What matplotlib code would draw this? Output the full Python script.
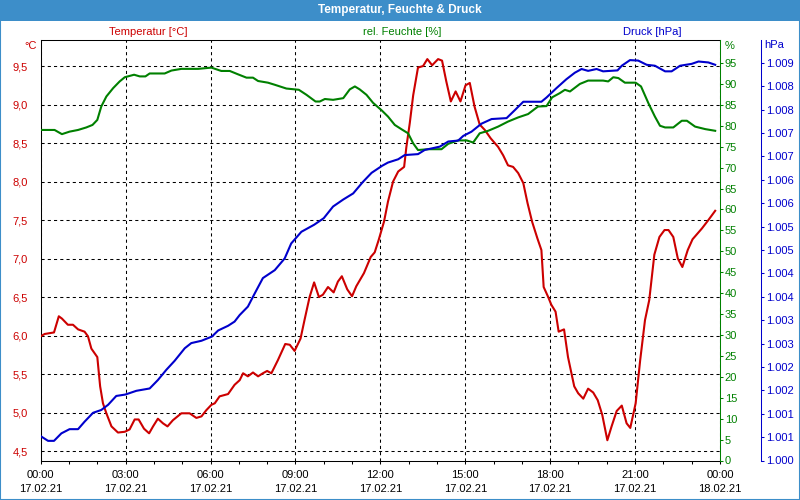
import matplotlib
matplotlib.use("Agg")
import matplotlib.pyplot as plt
from matplotlib.patches import Rectangle

plt.rcParams['font.family'] = ['Liberation Sans', 'DejaVu Sans']
plt.rcParams['font.size'] = 8

RED = '#cc0000'
GREEN = '#008000'
BLUE = '#0000cc'
BAR = '#3d8ec9'

# temperature [°C] over hours since 17.02.21 00:00
temp_hours = [0, 0.14, 0.47, 0.64, 0.75, 0.96, 1.14, 1.32, 1.55, 1.67, 1.79, 2.0, 2.1, 2.2,
              2.32, 2.5, 2.73, 2.97, 3.14, 3.32, 3.46, 3.65, 3.83, 3.97, 4.14, 4.32, 4.48,
              4.67, 4.97, 5.26, 5.5, 5.68, 5.85, 6.03, 6.15, 6.32, 6.62, 6.85, 7.03, 7.15,
              7.32, 7.5, 7.68, 7.85, 8.0, 8.15, 8.38, 8.64, 8.8, 8.97, 9.18, 9.32, 9.5,
              9.66, 9.83, 9.97, 10.15, 10.35, 10.5, 10.64, 10.83, 11.0, 11.15, 11.42, 11.66,
              11.8, 11.94, 12.13, 12.27, 12.45, 12.63, 12.84, 12.92, 13.04, 13.16, 13.33,
              13.51, 13.66, 13.83, 14.04, 14.18, 14.33, 14.49, 14.66, 14.83, 15.01, 15.16,
              15.33, 15.51, 15.69, 15.9, 16.16, 16.34, 16.51, 16.69, 16.87, 17.05, 17.2,
              17.36, 17.55, 17.69, 17.77, 17.93, 18.04, 18.19, 18.3, 18.49, 18.63, 18.85,
              18.99, 19.17, 19.34, 19.52, 19.68, 19.84, 20.02, 20.17, 20.35, 20.53, 20.7,
              20.83, 21.02, 21.18, 21.35, 21.5, 21.68, 21.86, 22.04, 22.18, 22.35, 22.51,
              22.67, 22.86, 23.03, 23.36, 23.59, 23.83]
temp_values = [5.99, 6.02, 6.04, 6.25, 6.22, 6.14, 6.14, 6.08, 6.05, 5.99, 5.83, 5.72, 5.34,
               5.12, 4.99, 4.82, 4.74, 4.75, 4.78, 4.91, 4.91, 4.79, 4.73, 4.82, 4.92, 4.86,
               4.82, 4.90, 4.99, 4.99, 4.93, 4.95, 5.03, 5.10, 5.12, 5.21, 5.24, 5.36, 5.42,
               5.51, 5.47, 5.52, 5.47, 5.51, 5.54, 5.51, 5.68, 5.89, 5.88, 5.80, 5.96, 6.20,
               6.50, 6.69, 6.50, 6.53, 6.63, 6.56, 6.70, 6.77, 6.60, 6.51, 6.64, 6.81, 7.02,
               7.08, 7.24, 7.48, 7.74, 8.00, 8.13, 8.19, 8.45, 8.76, 9.12, 9.48, 9.50, 9.59,
               9.51, 9.59, 9.57, 9.30, 9.04, 9.17, 9.04, 9.25, 9.28, 8.97, 8.74, 8.67, 8.56,
               8.45, 8.34, 8.21, 8.19, 8.11, 7.98, 7.72, 7.48, 7.26, 7.11, 6.63, 6.50, 6.40,
               6.31, 6.05, 6.08, 5.72, 5.34, 5.25, 5.18, 5.31, 5.26, 5.16, 4.97, 4.64, 4.82,
               5.02, 5.09, 4.86, 4.80, 5.12, 5.68, 6.20, 6.46, 7.05, 7.28, 7.37, 7.37, 7.28,
               7.00, 6.89, 7.11, 7.25, 7.39, 7.50, 7.62]

# relative humidity [%]
hum_hours = [0, 0.49, 0.75, 1.02, 1.32, 1.61, 1.83, 2.0, 2.14, 2.32, 2.56, 2.79, 2.97, 3.3,
             3.5, 3.7, 3.85, 4.38, 4.62, 4.97, 5.56, 6.03, 6.38, 6.68, 6.97, 7.27, 7.5,
             7.68, 8.03, 8.27, 8.68, 9.12, 9.39, 9.71, 9.86, 10.04, 10.33, 10.69, 10.92,
             11.1, 11.27, 11.51, 11.74, 12.06, 12.27, 12.51, 12.74, 12.98, 13.16, 13.33,
             13.69, 14.16, 14.4, 14.75, 15.05, 15.28, 15.51, 15.81, 16.16, 16.51, 16.87,
             17.22, 17.57, 17.87, 18.07, 18.34, 18.52, 18.7, 19.05, 19.34, 19.87, 20.05,
             20.23, 20.41, 20.64, 21.02, 21.21, 21.47, 21.7, 21.88, 22.06, 22.35, 22.65,
             22.83, 23.12, 23.48, 23.83]
hum_values = [79.0, 79.0, 78.0, 78.6, 79.0, 79.6, 80.2, 81.4, 84.6, 87.0, 89.0, 90.6, 91.6,
              92.2, 91.8, 91.8, 92.5, 92.5, 93.2, 93.6, 93.6, 93.9, 93.1, 93.1, 92.3, 91.5,
              91.5, 90.7, 90.3, 89.8, 88.9, 88.6, 87.4, 85.8, 85.8, 86.4, 86.2, 86.6, 88.7,
              89.4, 88.7, 87.4, 85.5, 83.6, 82.2, 80.2, 79.2, 78.2, 75.8, 74.2, 74.4, 74.4,
              75.7, 76.5, 76.5, 76.0, 78.2, 78.8, 79.8, 81.0, 82.0, 82.8, 84.6, 84.7, 86.8,
              87.8, 88.6, 88.2, 90.0, 90.8, 90.8, 90.6, 91.6, 91.4, 90.3, 90.3, 89.4, 85.4,
              82.2, 80.0, 79.6, 79.6, 81.2, 81.2, 79.8, 79.2, 78.8]

# pressure [hPa]
pres_hours = [0, 0.26, 0.47, 0.73, 1.02, 1.32, 1.55, 1.85, 2.14, 2.38, 2.67, 2.99, 3.38,
              3.85, 4.14, 4.44, 4.73, 5.09, 5.32, 5.68, 6.05, 6.27, 6.62, 6.85, 7.03, 7.32,
              7.56, 7.85, 8.27, 8.62, 8.85, 9.21, 9.66, 10.0, 10.33, 10.69, 11.04, 11.39,
              11.69, 12.06, 12.27, 12.63, 12.86, 13.33, 13.57, 14.1, 14.4, 14.75, 14.93,
              15.22, 15.57, 15.93, 16.46, 16.75, 17.05, 17.69, 17.87, 18.22, 18.57, 18.87,
              19.11, 19.34, 19.64, 19.87, 20.38, 20.53, 20.82, 21.11, 21.41, 21.7, 22.06,
              22.29, 22.59, 23.0, 23.24, 23.59, 23.83]
pres_values = [1000.52, 1000.42, 1000.42, 1000.58, 1000.67, 1000.67, 1000.83, 1001.02,
               1001.08, 1001.19, 1001.38, 1001.41, 1001.49, 1001.54, 1001.72, 1001.94,
               1002.13, 1002.40, 1002.51, 1002.56, 1002.65, 1002.78, 1002.88, 1002.97,
               1003.11, 1003.29, 1003.57, 1003.90, 1004.07, 1004.32, 1004.64, 1004.89,
               1005.04, 1005.18, 1005.43, 1005.58, 1005.71, 1005.96, 1006.15, 1006.30,
               1006.37, 1006.44, 1006.53, 1006.55, 1006.64, 1006.71, 1006.82, 1006.84,
               1006.94, 1007.03, 1007.20, 1007.30, 1007.32, 1007.49, 1007.67, 1007.67,
               1007.76, 1007.96, 1008.15, 1008.29, 1008.37, 1008.33, 1008.37, 1008.32,
               1008.34, 1008.44, 1008.56, 1008.55, 1008.46, 1008.44, 1008.32, 1008.32,
               1008.44, 1008.48, 1008.53, 1008.51, 1008.46]

x_ticks = [0, 3, 6, 9, 12, 15, 18, 21, 24]
x_labels = ['00:00\n17.02.21', '03:00\n17.02.21', '06:00\n17.02.21', '09:00\n17.02.21',
            '12:00\n17.02.21', '15:00\n17.02.21', '18:00\n17.02.21', '21:00\n17.02.21',
            '00:00\n18.02.21']
temp_ticks = [4.5, 5.0, 5.5, 6.0, 6.5, 7.0, 7.5, 8.0, 8.5, 9.0, 9.5]
temp_labels = ['4,5', '5,0', '5,5', '6,0', '6,5', '7,0', '7,5', '8,0', '8,5', '9,0', '9,5']
hum_ticks = list(range(0, 100, 5))
pres_ticks = [1000 + 0.5 * i for i in range(18)]
pres_labels = ['1.000', '1.001', '1.001', '1.002', '1.002', '1.003', '1.003', '1.004',
               '1.004', '1.005', '1.005', '1.006', '1.006', '1.007', '1.007', '1.008',
               '1.008', '1.009']

W, H = 800, 500
fig = plt.figure(figsize=(8, 5), dpi=100)

# title bar and frame
fig.patches.append(Rectangle((0, 1 - 21 / H), 1, 21 / H, transform=fig.transFigure,
                             facecolor=BAR, edgecolor='none', zorder=0))
fig.patches.append(Rectangle((0, 0), 1, 1, transform=fig.transFigure, fill=False,
                             edgecolor=BAR, lw=1.5, zorder=5))
fig.text(0.5, 1 - 10.5 / H, 'Temperatur, Feuchte & Druck', color='white',
         fontweight='bold', fontsize=8.5, ha='center', va='center')

left, right, top, bottom = 40.7, 720, 40, 460.5
ax = fig.add_axes([left / W, 1 - bottom / H, (right - left) / W, (bottom - top) / H])
ax_h = ax.twinx()
ax_p = ax.twinx()

ax.plot(temp_hours, temp_values, color=RED, lw=1.5, zorder=3)
ax_h.plot(hum_hours, hum_values, color=GREEN, lw=1.5)
ax_p.plot(pres_hours, pres_values, color=BLUE, lw=1.5)

ax.set_xlim(0, 24)
ax.set_ylim(4.377, 9.838)
ax_h.set_ylim(0, 100.5)
ax_p.set_ylim(1000, 1008.99)

# x axis
ax.set_xticks(x_ticks)
ax.set_xticklabels(x_labels, linespacing=1.5)
ax.set_xticks(range(25), minor=True)
ax.tick_params(axis='x', which='both', direction='out', length=2.2, width=0.75, pad=5)

# left temperature axis
ax.set_yticks(temp_ticks)
ax.set_yticklabels(temp_labels)
ax.tick_params(axis='y', length=0, pad=9.5, labelcolor=RED)
ax.grid(True, which='major', color='black', lw=0.75, ls=(0, (3, 3)))

for s in ['left', 'bottom', 'top']:
    ax.spines[s].set_linewidth(0.75)
ax.spines['right'].set_visible(False)

# humidity axis
ax_h.set_yticks(hum_ticks)
ax_h.set_yticklabels([str(v) for v in hum_ticks])
ax_h.tick_params(axis='y', direction='out', length=2, width=0.75, pad=1.5,
                 color=GREEN, labelcolor=GREEN)
for s in ['left', 'bottom', 'top']:
    ax_h.spines[s].set_visible(False)
ax_h.spines['right'].set_color(GREEN)
ax_h.spines['right'].set_linewidth(0.75)

# pressure axis
ax_p.spines['right'].set_position(('outward', 41 * 0.72))
ax_p.set_yticks(pres_ticks)
ax_p.set_yticklabels(pres_labels)
ax_p.tick_params(axis='y', direction='out', length=2, width=0.75, pad=1.5,
                 color=BLUE, labelcolor=BLUE)
for s in ['left', 'bottom', 'top']:
    ax_p.spines[s].set_visible(False)
ax_p.spines['right'].set_color(BLUE)
ax_p.spines['right'].set_linewidth(0.75)

# unit and series captions
fig.text(36.5 / W, 1 - 46 / H, '°C', color=RED, ha='right', va='center')
fig.text(725 / W, 1 - 46 / H, '%', color=GREEN, ha='left', va='center')
fig.text(764 / W, 1 - 45 / H, 'hPa', color=BLUE, ha='left', va='center')
fig.text(148 / W, 1 - 32 / H, 'Temperatur [°C]', color=RED, ha='center', va='center')
fig.text(402 / W, 1 - 32 / H, 'rel. Feuchte [%]', color=GREEN, ha='center', va='center')
fig.text(652 / W, 1 - 32 / H, 'Druck [hPa]', color=BLUE, ha='center', va='center')

fig.savefig('out.png', dpi=100)
